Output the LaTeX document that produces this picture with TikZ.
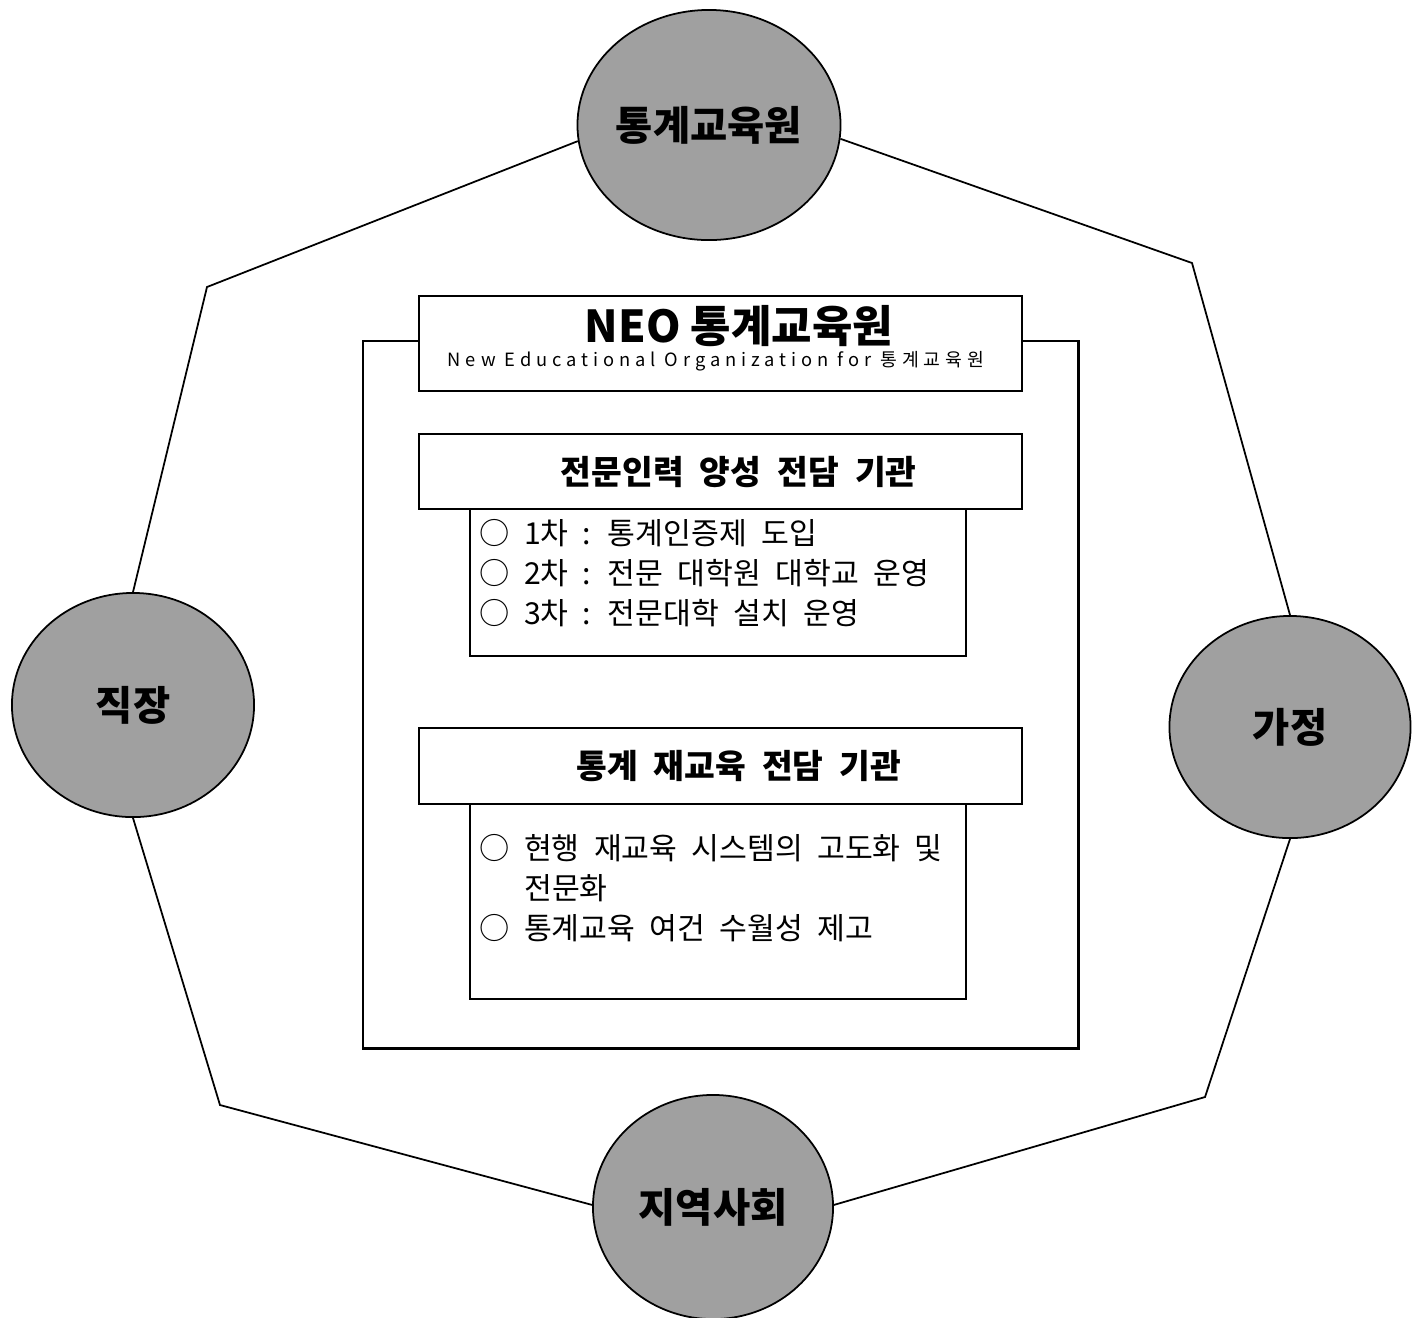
\documentclass[tikz,border=0pt]{standalone}
\usepackage{fontspec}
\setmainfont{Noto Sans CJK KR}
\newfontfamily\krwide[WordSpace=2.8]{Noto Sans CJK KR}
\newfontfamily\krlist[WordSpace=2.1]{Noto Sans CJK KR}
\newfontfamily\krsub[LetterSpace=27]{Noto Sans CJK KR}
\usetikzlibrary{shapes.geometric}
\definecolor{hubgray}{RGB}{160,160,160}
\tikzset{
	hub/.style={ellipse, draw, fill=hubgray, line width=0.5pt, inner sep=0pt,
		font=\bfseries\fontsize{11.5}{13}\selectfont},
	panel/.style={draw, fill=white, line width=0.6pt, inner sep=0pt, anchor=north west},
	head/.style={font=\krwide\bfseries\fontsize{9.5}{11}\selectfont},
	items/.style={anchor=west, align=left, inner sep=0pt, font=\krlist\fontsize{8.6}{11.4}\selectfont}
}
\begin{document}
\begin{tikzpicture}[x=0.01cm, y=-0.01cm]
	\useasboundingbox (0,0) rectangle (1413,1317);
	
	% draw circles
	\node[hub, minimum width=2.52cm, minimum height=2.3cm] (gyoyuk) at (709,125) {통계교육원};
	\node[hub, minimum width=2.42cm, minimum height=2.24cm] (jikjang) at (133,705) {직장};
	\node[hub, minimum width=2.41cm, minimum height=2.22cm] (gajeong) at (1290,727) {가정};
	\node[hub, minimum width=2.40cm, minimum height=2.24cm] (jiyeok) at (713,1207) {지역사회};
	
	% draw octagon
	\coordinate (c1) at (207,287);
	\coordinate (c2) at (220,1105);
	\coordinate (c3) at (1205,1097);
	\coordinate (c4) at (1192,263);
	\draw[line width=0.5pt] (gyoyuk.187) -- (c1) -- (jikjang.north);
	\draw[line width=0.5pt] (jikjang.south) -- (c2) -- (jiyeok.179);
	\draw[line width=0.5pt] (jiyeok.1) -- (c3) -- (gajeong.south);
	\draw[line width=0.5pt] (gajeong.north) -- (c4) -- (gyoyuk.354);
	
	% draw boxes
	\node[panel, minimum width=7.15cm, minimum height=7.07cm] (frame) at (362,340) {};
	\node[panel, minimum width=6.03cm, minimum height=0.95cm] (title) at (418,295) {};
	\node[font=\bfseries\fontsize{12.5}{14}\selectfont, inner sep=0pt] (neo) at (739,326) {NEO 통계교육원};
	\node[font=\krsub\fontsize{5.2}{6}\selectfont, inner sep=0pt] (sub) at (716,361) {New Educational Organization for 통계교육원};
	
	\node[panel, minimum width=6.03cm, minimum height=0.75cm] (head1) at (418,433) {};
	\node[head] at (head1.center) [xshift=0.18cm] {전문인력 양성 전담 기관};
	\node[panel, minimum width=4.96cm, minimum height=1.47cm] (list1) at (469,508) {};
	\node[items] (txt1) at (479,573) {○ 1차 : 통계인증제 도입\\○ 2차 : 전문 대학원 대학교 운영\\○ 3차 : 전문대학 설치 운영};
	
	\node[panel, minimum width=6.03cm, minimum height=0.76cm] (head2) at (418,727) {};
	\node[head] at (head2.center) [xshift=0.18cm] {통계 재교육 전담 기관};
	\node[panel, minimum width=4.96cm, minimum height=1.95cm] (list2) at (469,803) {};
	\node[items] (txt2) at (479,888) {○ 현행 재교육 시스템의 고도화 및\\\hphantom{○\ }전문화\\○ 통계교육 여건 수월성 제고};
\end{tikzpicture}
\end{document}
